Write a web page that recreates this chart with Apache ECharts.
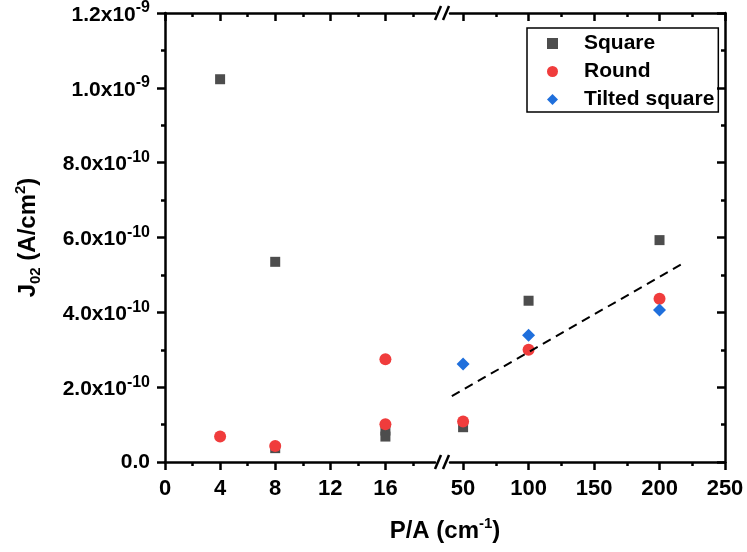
<!DOCTYPE html>
<html><head><meta charset="utf-8">
<script src="https://cdn.jsdelivr.net/npm/echarts@6/dist/echarts.min.js"></script>
<style>html,body{margin:0;padding:0;background:#fff}#c{width:747px;height:552px}</style>
</head><body><div id="c"></div>
<script>
// ---- data ----
const squareX = [4, 8, 8, 16, 16, 50, 100, 200];
const squareY = [1.023e-9, 5.35e-10, 3.7e-11, 8.4e-11, 6.8e-11, 9.3e-11, 4.31e-10, 5.93e-10];
const roundX = [4, 8, 16, 16, 50, 100, 200];
const roundY = [6.8e-11, 4.3e-11, 2.745e-10, 1.01e-10, 1.08e-10, 3.0e-10, 4.36e-10];
const tiltedX = [50, 100, 200];
const tiltedY = [2.62e-10, 3.39e-10, 4.06e-10];
const fitX = [41.4, 220];
const fitY = [1.76e-10, 5.35e-10];
const leftMajor = [0, 4, 8, 12, 16];
const leftMinor = [2, 6, 10, 14, 18];
const rightMajor = [50, 100, 150, 200, 250];
const rightMinor = [75, 125, 175, 225];
const yTickLabels = ['0.0', '2.0x10^-10', '4.0x10^-10', '6.0x10^-10', '8.0x10^-10', '1.0x10^-9', '1.2x10^-9'];
const seriesNames = ['Square', 'Round', 'Tilted square'];
const LEFT_RANGE = [0, 19.6];
const RIGHT_RANGE = [40, 250];
const Y_RANGE = [0, 1.2e-9];
const Y_STEP = 2e-10;

const FONT = '"Liberation Sans", Arial, sans-serif';
function pairs(xs, ys, left) {
  const out = [];
  xs.forEach((x, i) => { if ((x < 30) === left) out.push([x, ys[i]]); });
  return out;
}
const lineStyle = { color: '#000', width: 2.5 };
function xAx(grid, pos, range, ticks, len, inside, labels, showLine) {
  return {
    type: 'value', gridIndex: grid, position: pos, min: range[0], max: range[1],
    axisLine: { show: showLine, onZero: false, lineStyle },
    axisTick: { show: true, inside, length: len, lineStyle: { color: '#000', width: 2.5 }, customValues: ticks },
    axisLabel: labels ? { show: true, customValues: ticks, margin: 16, fontSize: 22, fontWeight: 'bold', color: '#000', fontFamily: FONT } : { show: false },
    splitLine: { show: false }
  };
}
const titleRich = {
  b: { fontSize: 24, fontWeight: 'bold', lineHeight: 30, color: '#000', fontFamily: FONT },
  sup: { fontSize: 15, fontWeight: 'bold', lineHeight: 15, verticalAlign: 'top', color: '#000', fontFamily: FONT },
  sub: { fontSize: 15, fontWeight: 'bold', lineHeight: 15, verticalAlign: 'bottom', color: '#000', fontFamily: FONT }
};
const xAxes = [
  xAx(0, 'bottom', LEFT_RANGE, leftMajor, 8, false, true, true),
  xAx(0, 'bottom', LEFT_RANGE, leftMinor, 4, false, false, false),
  xAx(0, 'top', LEFT_RANGE, leftMajor, 8, true, false, true),
  xAx(0, 'top', LEFT_RANGE, leftMinor, 4, true, false, false),
  xAx(1, 'bottom', RIGHT_RANGE, rightMajor, 8, false, true, true),
  xAx(1, 'bottom', RIGHT_RANGE, rightMinor, 4, false, false, false),
  xAx(1, 'top', RIGHT_RANGE, rightMajor, 8, true, false, true),
  xAx(1, 'top', RIGHT_RANGE, rightMinor, 4, true, false, false),
  {
    type: 'value', gridIndex: 2, min: 0, max: 1,
    axisLine: { show: false }, axisTick: { show: false }, axisLabel: { show: false }, splitLine: { show: false },
    name: '{b|P/A (cm}{sup|-1}{b|)}', nameLocation: 'middle', nameGap: 54,
    nameTextStyle: { color: '#000', fontFamily: FONT, rich: titleRich }
  }
];
const yRich = {
  b: { fontSize: 21, fontWeight: 'bold', lineHeight: 26, color: '#000', fontFamily: FONT, padding: [4, 0, 0, 0] },
  z: { fontSize: 21, fontWeight: 'bold', lineHeight: 26, color: '#000', fontFamily: FONT },
  sup: { fontSize: 16, fontWeight: 'bold', lineHeight: 15, verticalAlign: 'top', color: '#000', fontFamily: FONT }
};
const yAxes = [
  {
    type: 'value', gridIndex: 0, position: 'left', min: Y_RANGE[0], max: Y_RANGE[1], interval: Y_STEP,
    axisLine: { show: true, onZero: false, lineStyle },
    axisTick: { show: true, inside: false, length: 8, lineStyle: { color: '#000', width: 2.5 } },
    minorTick: { show: true, splitNumber: 2, length: 4, lineStyle: { color: '#000', width: 2.5 } },
    axisLabel: {
      margin: 15, rich: yRich,
      formatter: (v) => {
        const s = yTickLabels[Math.round(v / Y_STEP)] || '';
        const p = s.split('^');
        return p[1] ? '{b|' + p[0] + '}{sup|' + p[1] + '}' : '{z|' + p[0] + '}';
      }
    },
    splitLine: { show: false },
    name: '{b|J}{sub|02}{b| (A/cm}{sup|2}{b|)}', nameLocation: 'middle', nameGap: 122, nameRotate: 90,
    nameTextStyle: { color: '#000', fontFamily: FONT, rich: titleRich }
  },
  {
    type: 'value', gridIndex: 1, position: 'right', min: Y_RANGE[0], max: Y_RANGE[1], interval: Y_STEP,
    axisLine: { show: true, onZero: false, lineStyle },
    axisTick: { show: true, inside: true, length: 8, lineStyle: { color: '#000', width: 2.5 } },
    minorTick: { show: true, splitNumber: 2, length: 4, lineStyle: { color: '#000', width: 2.5 } },
    axisLabel: { show: false }, splitLine: { show: false }
  },
  {
    type: 'value', gridIndex: 2, min: 0, max: 1,
    axisLine: { show: false }, axisTick: { show: false }, axisLabel: { show: false }, splitLine: { show: false }
  }
];
const sqStyle = { symbol: 'rect', symbolSize: 10, itemStyle: { color: '#4d4d4d', opacity: 1 }, z: 2 };
const rdStyle = { symbol: 'circle', symbolSize: 12, itemStyle: { color: '#f03c3c', opacity: 1 }, z: 3 };
const tlStyle = { symbol: 'diamond', symbolSize: 13, itemStyle: { color: '#1f6fdc', opacity: 1 }, z: 4 };
const series = [
  Object.assign({ type: 'scatter', name: seriesNames[0], xAxisIndex: 0, yAxisIndex: 0, data: pairs(squareX, squareY, true) }, sqStyle),
  Object.assign({ type: 'scatter', name: seriesNames[0], xAxisIndex: 4, yAxisIndex: 1, data: pairs(squareX, squareY, false) }, sqStyle),
  Object.assign({ type: 'scatter', name: seriesNames[1], xAxisIndex: 0, yAxisIndex: 0, data: pairs(roundX, roundY, true) }, rdStyle),
  Object.assign({ type: 'scatter', name: seriesNames[1], xAxisIndex: 4, yAxisIndex: 1, data: pairs(roundX, roundY, false) }, rdStyle),
  Object.assign({ type: 'scatter', name: seriesNames[2], xAxisIndex: 4, yAxisIndex: 1, data: pairs(tiltedX, tiltedY, false) }, tlStyle),
  {
    type: 'line', name: 'fit', xAxisIndex: 4, yAxisIndex: 1, symbol: 'none', z: 5,
    data: fitX.map((x, i) => [x, fitY[i]]),
    lineStyle: { color: '#000', width: 2, type: [9, 6] }
  }
];
function slash(x, y) {
  return { type: 'line', shape: { x1: x, y1: y + 7, x2: x + 6, y2: y - 7 }, style: { stroke: '#000', lineWidth: 2.5 } };
}
const chart = echarts.init(document.getElementById('c'), null, { renderer: 'canvas' });
chart.setOption({
  animation: false,
  backgroundColor: '#fff',
  grid: [
    { left: 165, top: 13, width: 270, bottom: 90 },
    { left: 450, top: 13, right: 22, bottom: 90 },
    { left: 165, top: 13, right: 22, bottom: 90 }
  ],
  xAxis: xAxes,
  yAxis: yAxes,
  legend: {
    data: seriesNames, orient: 'vertical', left: 527, top: 28,
    padding: [5, 4, 2, 20], itemWidth: 11, itemHeight: 11, itemGap: 7,
    borderColor: '#000', borderWidth: 1.5, borderRadius: 0,
    textStyle: { fontSize: 21, fontWeight: 'bold', color: '#000', fontFamily: FONT, padding: [0, 0, 0, 21] }
  },
  graphic: [slash(435, 462), slash(443, 462), slash(435, 13), slash(443, 13)],
  series
});
</script></body></html>
